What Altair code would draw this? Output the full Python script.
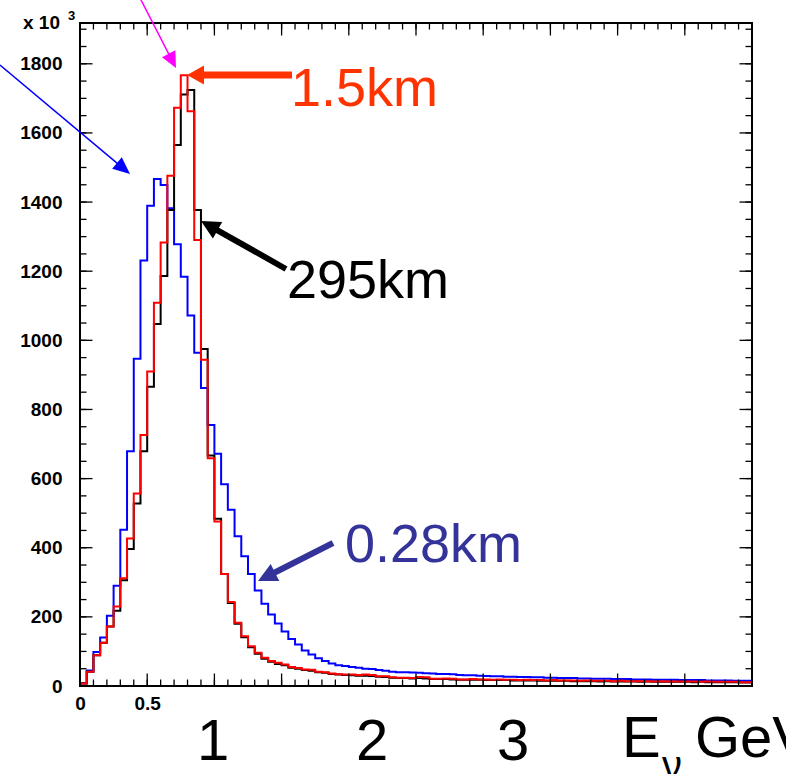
import math
import altair as alt
import pandas as pd

# ---------------- data ----------------
bin_width = 0.05

blue_028km = [8, 45, 98, 140, 203, 290, 452, 679, 947, 1231,
              1389, 1467, 1449, 1382, 1278, 1184, 1072, 964, 862, 755,
              672, 584, 510, 433, 375, 324, 276, 238, 207, 181,
              158, 136, 120, 103, 91, 80, 72, 65, 60, 58,
              55, 53, 50, 49, 46, 44, 41, 40, 40, 39,
              38, 37, 36, 35, 35, 34, 32, 31, 31, 30,
              29, 28, 28, 27, 27, 26, 26, 25, 25, 24,
              24, 23, 23, 23, 22, 22, 21, 21, 21, 20,
              20, 20, 19, 19, 19, 18, 18, 18, 18, 17,
              17, 17, 17, 16, 16, 16, 16, 15, 15, 15]

black_295km = [7, 41, 89, 125, 172, 218, 306, 396, 528, 679,
               866, 1047, 1186, 1377, 1565, 1711, 1724, 1377, 975, 667,
               484, 324, 240, 180, 141, 112, 93, 79, 70, 64,
               60, 53, 50, 46, 44, 40, 38, 35, 33, 32,
               31, 30, 30, 29, 27, 26, 24, 23, 23, 22,
               23, 22, 20, 20, 20, 19, 18, 18, 18, 18,
               17, 17, 17, 17, 16, 16, 16, 16, 15, 15,
               15, 15, 15, 14, 14, 14, 14, 13, 14, 13,
               13, 13, 13, 12, 13, 12, 12, 12, 12, 12,
               12, 11, 12, 11, 11, 11, 11, 11, 10, 10]

red_15km = [7, 41, 89, 125, 172, 230, 312, 427, 557, 726,
            910, 1109, 1283, 1476, 1673, 1767, 1663, 1290, 944, 659,
            476, 324, 243, 183, 144, 115, 96, 82, 72, 67,
            62, 55, 52, 48, 47, 41, 40, 36, 34, 33,
            33, 32, 33, 32, 28, 28, 25, 24, 24, 23,
            26, 25, 21, 21, 22, 21, 19, 19, 20, 19,
            19, 18, 19, 18, 18, 17, 18, 17, 17, 16,
            17, 16, 16, 16, 15, 16, 15, 15, 15, 14,
            15, 14, 14, 14, 14, 13, 14, 13, 13, 13,
            13, 13, 12, 13, 12, 12, 12, 12, 11, 11]

y_label_values = [0, 200, 400, 600, 800, 1000, 1200, 1400, 1600, 1800]
x_label_values = [0, 0.5]
x_major_ticks = [i * 0.5 for i in range(11)]
x_minor_ticks = [i * 0.1 for i in range(51)]
y_minor_ticks = [i * 50 for i in range(39)]
y_major_ticks = [i * 200 for i in range(10)]

X_MAX = 5.0
Y_MAX = 1918

# ---------------- layout ----------------
OX, OY = 80, 23          # plot origin on the page
W, H = 672, 663          # plot area
FONT = "Liberation Sans"


def step_table(values):
    xs = [0.0]
    ys = [0]
    for i, v in enumerate(values):
        xs.append(round(i * bin_width, 4))
        ys.append(v)
    xs.append(X_MAX)
    ys.append(values[-1])
    xs.append(X_MAX)
    ys.append(0)
    return pd.DataFrame({"x": xs, "y": ys, "order": list(range(len(xs)))})


xs_scale = alt.Scale(domain=[0, X_MAX], nice=False, zero=False)
ys_scale = alt.Scale(domain=[0, Y_MAX], nice=False, zero=False)

x_axis = alt.Axis(values=x_label_values, format=".1~f", title=None, grid=False,
                  domain=False, ticks=False, tickSize=0, labelPadding=8,
                  labelFont=FONT, labelFontWeight="bold", labelFontSize=19,
                  labelColor="black", labelFlush=False)
y_axis = alt.Axis(values=y_label_values, format="d", title=None, grid=False,
                  domain=False, ticks=False, tickSize=0, labelPadding=18,
                  labelFont=FONT, labelFontWeight="bold", labelFontSize=19,
                  labelColor="black")


def X(field):
    return alt.X(field, scale=xs_scale, axis=x_axis)


def Y(field):
    return alt.Y(field, scale=ys_scale, axis=y_axis)


def hist_layer(values, color):
    return alt.Chart(step_table(values)).mark_line(
        interpolate="step-after", color=color, strokeWidth=2, clip=True
    ).encode(x=X("x:Q"), y=Y("y:Q"), order="order:Q")


# ---------------- ticks (inward, on all four sides) ----------------
TICK = dict(color="black", strokeWidth=1.3)


def x_ticks(vals, length):
    df = pd.DataFrame({"x": vals})
    bottom = alt.Chart(df).mark_rule(**TICK).encode(
        x=X("x:Q"), y=alt.value(H), y2=alt.value(H - length))
    top = alt.Chart(df).mark_rule(**TICK).encode(
        x=X("x:Q"), y=alt.value(0), y2=alt.value(length))
    return [bottom, top]


def y_ticks(vals, length):
    df = pd.DataFrame({"y": vals})
    left = alt.Chart(df).mark_rule(**TICK).encode(
        y=Y("y:Q"), x=alt.value(0), x2=alt.value(length))
    right = alt.Chart(df).mark_rule(**TICK).encode(
        y=Y("y:Q"), x=alt.value(W), x2=alt.value(W - length))
    return [left, right]


# ---------------- annotations (page pixel positions) ----------------
dummy = pd.DataFrame({"a": [0]})


def frame():
    st = dict(color="black", strokeWidth=2, strokeCap="square")
    return [
        alt.Chart(dummy).mark_rule(**st).encode(x=alt.value(0), x2=alt.value(W), y=alt.value(0)),
        alt.Chart(dummy).mark_rule(**st).encode(x=alt.value(0), x2=alt.value(W), y=alt.value(H)),
        alt.Chart(dummy).mark_rule(**st).encode(y=alt.value(0), y2=alt.value(H), x=alt.value(0)),
        alt.Chart(dummy).mark_rule(**st).encode(y=alt.value(0), y2=alt.value(H), x=alt.value(W)),
    ]


def arrow(x0, y0, x1, y1, color, width, head_len, head_w):
    dx, dy = x1 - x0, y1 - y0
    L = math.hypot(dx, dy)
    ux, uy = dx / L, dy / L
    bx, by = x1 - ux * head_len * 0.7, y1 - uy * head_len * 0.7
    ang = math.degrees(math.atan2(dy, dx)) % 360
    w = head_w / head_len
    shaft = alt.Chart(dummy).mark_rule(color=color, strokeWidth=width, strokeCap="butt").encode(
        x=alt.value(x0 - OX), y=alt.value(y0 - OY),
        x2=alt.value(bx - OX), y2=alt.value(by - OY))
    cx, cy = x1 - ux * head_len / 2, y1 - uy * head_len / 2
    head = alt.Chart(dummy).mark_point(
        shape=f"M1,0L-1,{-w:.3f}L-1,{w:.3f}Z", filled=True, opacity=1,
        color=color, strokeWidth=0, size=head_len ** 2, angle=ang
    ).encode(x=alt.value(cx - OX), y=alt.value(cy - OY))
    return [shaft, head]


def label(text, x, y, color="black", size=53, align="left", weight="normal", baseline="alphabetic"):
    return alt.Chart(dummy).mark_text(
        text=text, font=FONT, fontSize=size, color=color, align=align,
        baseline=baseline, fontWeight=weight
    ).encode(x=alt.value(x - OX), y=alt.value(y - OY))


orange = "#FF3300"
indigo = "#333399"

annotations = []
annotations += arrow(140, -2, 176, 68, "#FF00FF", 1.5, 16, 15)
annotations += arrow(0, 65, 130, 174, "#0000FF", 1.5, 17, 15)
annotations += arrow(292, 75, 187, 75, orange, 7, 17, 19)
annotations += arrow(286, 269, 201, 221, "black", 6, 19, 19)
annotations += arrow(333, 543, 258, 581, indigo, 6, 19, 19)

annotations += [
    label("1.5km", 291, 106, orange, size=54),
    label("295km", 287, 298, size=54),
    label("0.28km", 345, 562, indigo, size=54),
    label("1", 213, 760, align="center", size=58),
    label("2", 372, 760, align="center", size=58),
    label("3", 513, 760, align="center", size=58),
    label("E", 622, 757, size=58),
    label("ν", 662, 779, size=40),
    label("GeV", 695, 757, size=58),
    label("x 10", 23, 29, size=19, weight="bold"),
    label("3", 68, 20, size=13, weight="bold"),
]

layers = []
layers.append(hist_layer(blue_028km, "#0000FF"))
layers.append(hist_layer(black_295km, "#000000"))
layers.append(hist_layer(red_15km, "#FF0000"))
layers += x_ticks(x_minor_ticks, 6.5)
layers += x_ticks(x_major_ticks, 12.5)
layers += y_ticks(y_minor_ticks, 6.5)
layers += y_ticks(y_major_ticks, 12.5)
layers += frame()
layers += annotations

chart = alt.layer(*layers).properties(
    width=W, height=H,
    autosize=alt.AutoSizeParams(type="none"),
    padding={"left": OX, "top": OY, "right": 786 - OX - W, "bottom": 774 - OY - H},
).configure_view(stroke=None).configure(background="white")

chart.save("out.html", embed_options={"renderer": "svg", "actions": False})
